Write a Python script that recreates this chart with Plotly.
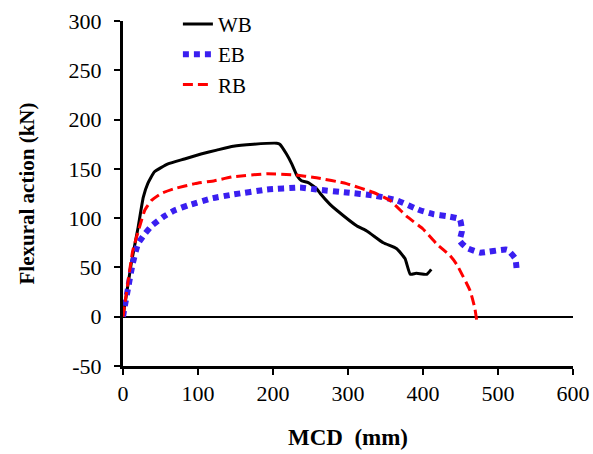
import plotly.graph_objects as go

wb_x = [0, 11, 20, 27, 33, 42, 60, 82, 104, 125, 147, 174, 205, 209, 218, 225, 232, 238, 247, 258, 263, 276, 285, 312, 325, 347, 365, 376, 383, 391, 405, 411]
wb_y = [0, 54, 90, 121, 135, 147, 155, 160, 165, 169, 173, 175, 176, 175, 165, 155, 143, 138, 136, 130, 125, 114, 108, 92, 87, 75, 69, 59, 43, 44, 43, 48]

eb_x = [0, 2, 7, 13, 20, 29, 38, 53, 69, 87, 118, 147, 192, 236, 258, 298, 334, 365, 396, 414, 432, 449, 452, 449, 458, 476, 512, 523, 525]
eb_y = [0, 9, 30, 54, 74, 84, 92, 101, 108, 113, 120, 124, 129, 131, 129, 126, 123, 118, 108, 104, 102, 99, 87, 77, 70, 65, 68, 59, 47]

rb_x = [0, 7, 13, 22, 29, 38, 51, 69, 96, 122, 147, 192, 227, 258, 298, 334, 356, 378, 400, 418, 436, 445, 463, 469, 472]
rb_y = [0, 37, 67, 91, 108, 118, 125, 130, 135, 138, 142, 145, 144, 141, 135, 126, 118, 102, 89, 74, 62, 53, 26, 9, -6]

x_ticks = [0, 100, 200, 300, 400, 500, 600]
y_ticks = [-50, 0, 50, 100, 150, 200, 250, 300]
y_tick_text = ["-50", "0", "50", "100", "150", "200", "250", "300"]

FONT = "Liberation Serif, Times New Roman, serif"

fig = go.Figure()
fig.add_trace(go.Scatter(x=wb_x, y=wb_y, mode="lines", name="WB",
                         line=dict(color="black", width=3, shape="spline", smoothing=0.4)))
fig.add_trace(go.Scatter(x=eb_x, y=eb_y, mode="lines", name="EB",
                         line=dict(color="#3a1ff0", width=6, dash="6px,5px", shape="spline", smoothing=0.4)))
fig.add_trace(go.Scatter(x=rb_x, y=rb_y, mode="lines", name="RB",
                         line=dict(color="#ff0000", width=3, dash="10px,5px", shape="spline", smoothing=0.4)))

fig.update_layout(
    width=593, height=454,
    margin=dict(l=123, r=20, t=21, b=88, pad=0, autoexpand=False),
    plot_bgcolor="white", paper_bgcolor="white",
    font=dict(family=FONT, size=21, color="black"),
    showlegend=True,
    legend=dict(x=0.122, y=1.05, xanchor="left", yanchor="top",
                bgcolor="rgba(0,0,0,0)", font=dict(size=21, family=FONT),
                tracegroupgap=0),
)
fig.update_xaxes(range=[0, 600], tickvals=x_ticks, showgrid=False, zeroline=False,
                 showline=True, linecolor="black", linewidth=3, automargin=False,
                 ticks="outside", ticklen=6, tickwidth=2, tickcolor="black",
                 tickfont=dict(size=22, family=FONT),
                 title=dict(text="<b>MCD  (mm)</b>", font=dict(size=23, family=FONT), standoff=24))
fig.update_yaxes(range=[-50, 300], tickvals=y_ticks, ticktext=y_tick_text, showgrid=False,
                 zeroline=True, zerolinecolor="black", zerolinewidth=2,
                 showline=True, linecolor="black", linewidth=3, automargin=False,
                 ticks="outside", ticklen=6, tickwidth=2, tickcolor="black",
                 ticklabelstandoff=8,
                 tickfont=dict(size=22, family=FONT),
                 title=dict(text="<b>Flexural action (kN)</b>", font=dict(size=21, family=FONT), standoff=29))

fig.write_html("out.html")
